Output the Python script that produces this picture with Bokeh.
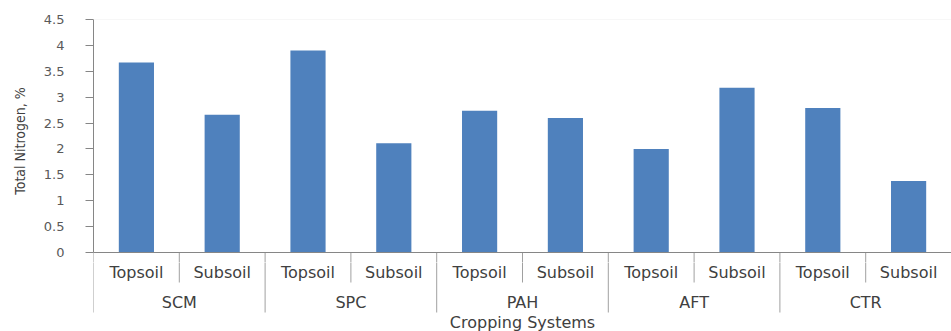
from bokeh.plotting import figure
from bokeh.layouts import column
from bokeh.models import FactorRange, Range1d, FixedTicker, Span, ColumnDataSource
from bokeh.core.properties import value
from bokeh.embed import file_html
from bokeh.resources import INLINE

# ---- data ----
groups = ["SCM", "SPC", "PAH", "AFT", "CTR"]
soils = ["Topsoil", "Subsoil"]
topsoil = [3.67, 3.90, 2.74, 2.00, 2.79]
subsoil = [2.66, 2.11, 2.60, 3.18, 1.38]
y_ticks = [0, 0.5, 1, 1.5, 2, 2.5, 3, 3.5, 4, 4.5]
y_title = "Total Nitrogen, %"
x_title = "Cropping Systems"

factors = [(g, s) for g in groups for s in soils]
values = []
for t, s in zip(topsoil, subsoil):
    values += [t, s]
n = len(factors)

# layout (pixels)
W, H = 951, 331
frame_left, frame_top = 93, 19
zero_px = 252            # pixel row of value 0
top_h = zero_px + 10     # height of the bar panel (room for the "0" label)
bot_h = H - top_h        # height of the category-label panel
y_end = y_ticks[-1]
px_per_unit = (zero_px - frame_top) / y_end
y_start = -(top_h - zero_px) / px_per_unit

GRAY_AX = "#868686"
GRAY_SEP = "#a0a0a0"
TXT = "#404040"

xr = FactorRange(*factors, factor_padding=0, group_padding=0,
                 subgroup_padding=0, range_padding=0)

# ---------- bar panel ----------
p = figure(width=W, height=top_h, output_backend="svg", toolbar_location=None,
           x_range=xr, y_range=Range1d(y_start, y_end),
           min_border_left=frame_left, min_border_right=0,
           min_border_top=frame_top, min_border_bottom=0)
p.outline_line_color = None
p.xgrid.visible = False
p.ygrid.visible = False
p.xaxis.visible = False

ax = p.yaxis[0]
ax.ticker = FixedTicker(ticks=y_ticks, minor_ticks=[])
ax.bounds = (y_ticks[0], y_ticks[-1])
ax.major_label_overrides = {t: f"{t:g}" for t in y_ticks}
ax.axis_line_color = GRAY_AX
ax.major_tick_line_color = GRAY_AX
ax.major_tick_out = 8
ax.major_tick_in = 0
ax.minor_tick_out = 0
ax.minor_tick_in = 0
ax.major_label_standoff = 21
ax.major_label_text_font = "DejaVu Sans"
ax.major_label_text_font_size = "13px"
ax.major_label_text_color = "#595959"
ax.axis_label = y_title
ax.axis_label_standoff = 13
ax.axis_label_text_font = "DejaVu Sans Condensed, Liberation Sans"
ax.axis_label_text_font_size = "14px"
ax.axis_label_text_font_style = "normal"
ax.axis_label_text_color = TXT

p.add_layout(Span(location=y_end, dimension="width", line_color="#f0f0f0", line_width=1))
p.add_layout(Span(location=0, dimension="width", line_color=GRAY_AX, line_width=1))

src = ColumnDataSource(dict(x=factors, top=values))
p.vbar(x="x", top="top", width=0.41, bottom=0, source=src,
       fill_color="#4f81bd", line_color=None)

sub_b = [i for i in range(n + 1) if i % len(soils) != 0]
grp_b = [i for i in range(n + 1) if i % len(soils) == 0]
all_b = list(range(n + 1))
p.segment(x0=all_b, y0=[0] * len(all_b), x1=all_b, y1=[y_start] * len(all_b),
          line_color=GRAY_SEP, line_width=1)

# ---------- category-label panel (y in pixels below the zero line) ----------
q = figure(width=W, height=bot_h, output_backend="svg", toolbar_location=None,
           x_range=xr, y_range=Range1d(-(H - zero_px), -(top_h - zero_px)),
           x_axis_location=None, y_axis_location=None,
           min_border_left=frame_left, min_border_right=0,
           min_border_top=0, min_border_bottom=0)
q.outline_line_color = None
q.xgrid.visible = False
q.ygrid.visible = False

q.segment(x0=sub_b, y0=[0] * len(sub_b), x1=sub_b, y1=[-30] * len(sub_b),
          line_color=GRAY_SEP, line_width=1)
q.segment(x0=grp_b, y0=[0] * len(grp_b), x1=grp_b, y1=[-60] * len(grp_b),
          line_color=GRAY_SEP, line_width=1)

q.text(x=factors, y=[-20] * n, text=[f[1] for f in factors],
       text_align="center", text_baseline="middle",
       text_font=value("DejaVu Sans"), text_font_size="16px", text_color=TXT)
q.text(x=groups, y=[-50] * len(groups), text=groups,
       text_align="center", text_baseline="middle",
       text_font=value("DejaVu Sans"), text_font_size="16px", text_color=TXT)
q.text(x=[n / 2], y=[-70], text=[x_title],
       text_align="center", text_baseline="middle",
       text_font=value("DejaVu Sans"), text_font_size="16px", text_color=TXT)

layout = column(p, q, spacing=0)
open("out.html", "w").write(file_html(layout, INLINE))
